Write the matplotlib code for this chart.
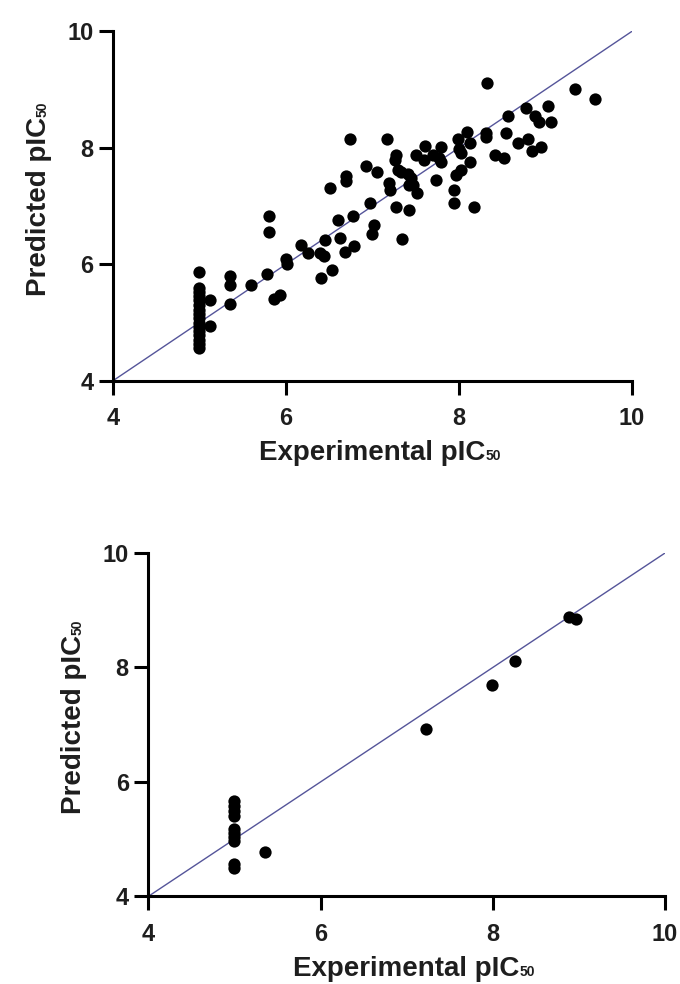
# Predicted vs experimental pIC50, training set (top) and test set (bottom)
import matplotlib.pyplot as plt

plt.rcParams['font.family'] = ['Liberation Sans', 'DejaVu Sans']
plt.rcParams['font.weight'] = 'bold'

# Training set (top panel)
train_exp = [
    5.0, 5.0, 5.0, 5.0, 5.0, 5.0, 5.0, 5.0, 5.0, 5.0, 5.0, 5.0, 5.0, 5.0, 5.0, 5.0,
    5.12, 5.12, 5.35, 5.35, 5.36, 5.60, 5.78, 5.81, 5.81, 5.86, 5.93,
    6.00, 6.01, 6.17, 6.26, 6.40, 6.44, 6.45, 6.41, 6.53, 6.51, 6.60, 6.63,
    6.69, 6.79, 6.70, 6.70, 6.74, 6.78, 6.93, 6.97, 7.02, 7.00, 7.06, 7.17,
    7.19, 7.21, 7.27, 7.26, 7.30, 7.33, 7.41, 7.45, 7.42, 7.47, 7.52, 7.27,
    7.42, 7.34, 7.51, 7.61, 7.60, 7.70, 7.80, 7.77, 7.79, 7.74, 7.95, 7.94,
    8.18, 7.99, 8.09, 8.13, 8.03, 8.00, 7.97, 8.03, 8.13, 8.32, 8.31, 8.42,
    8.52, 8.33, 9.34, 9.58, 9.03, 9.07, 8.78, 8.88, 8.93, 8.57, 8.55, 8.68,
    8.80, 8.85, 8.95,
]
train_pred = [
    5.87, 5.60, 5.52, 5.45, 5.38, 5.30, 5.22, 5.15, 5.08, 5.00, 4.93, 4.86, 4.78, 4.70, 4.63, 4.56,
    5.39, 4.94, 5.80, 5.64, 5.32, 5.64, 5.83, 6.83, 6.55, 5.40, 5.48,
    6.10, 6.00, 6.33, 6.20, 6.19, 6.14, 6.42, 5.76, 5.90, 7.32, 6.76, 6.46,
    6.21, 6.31, 7.52, 7.43, 8.16, 6.83, 7.69, 7.05, 6.68, 6.53, 7.59, 8.15,
    7.39, 7.28, 7.87, 7.80, 7.62, 7.59, 7.56, 7.48, 7.36, 7.36, 7.22, 6.98,
    6.94, 6.43, 7.88, 8.03, 7.79, 7.88, 8.01, 7.83, 7.75, 7.45, 7.28, 7.06,
    6.98, 8.16, 8.28, 8.08, 7.91, 7.98, 7.53, 7.62, 7.75, 8.26, 8.19, 7.88,
    7.82, 9.12, 9.02, 8.84, 8.72, 8.45, 8.68, 8.54, 8.45, 8.55, 8.26, 8.09,
    8.15, 7.95, 8.01,
]

# Test set (bottom panel)
test_exp = [5.0, 5.0, 5.0, 5.0, 5.0, 5.0, 5.0, 5.0, 5.0, 5.0, 5.35, 7.23, 7.99, 8.26, 8.89, 8.97]
test_pred = [5.66, 5.58, 5.49, 5.40, 5.17, 5.10, 5.03, 4.96, 4.57, 4.50, 4.78, 6.93, 7.70, 8.11, 8.89, 8.85]

ticks = [4, 6, 8, 10]
line_color = '#55559a'
text_color = '#1e1e1e'


def style_axes(ax):
    ax.set_xlim(4, 10)
    ax.set_ylim(4, 10)
    ax.set_xticks(ticks)
    ax.set_yticks(ticks)
    for side in ['top', 'right']:
        ax.spines[side].set_visible(False)
    for side in ['left', 'bottom']:
        ax.spines[side].set_linewidth(2.2)
    ax.tick_params(width=2.2, length=10, labelsize=17, labelcolor=text_color)
    ax.tick_params(axis='x', pad=9)
    ax.tick_params(axis='y', pad=4)
    for lab in ax.get_xticklabels() + ax.get_yticklabels():
        lab.set_fontweight('bold')

    # axis titles with a small "50" subscript
    ax.set_xlabel('Experimental pIC', fontsize=20, fontweight='bold',
                  color=text_color, labelpad=7)
    ax.set_ylabel('Predicted pIC', fontsize=20, fontweight='bold',
                  color=text_color, labelpad=11)
    ax.annotate('50', xy=(1.0, 0.0), xycoords=ax.xaxis.label,
                xytext=(0, 2), textcoords='offset points',
                ha='left', va='bottom', fontsize=10, color=text_color)
    ax.annotate('50', xy=(1.0, 1.0), xycoords=ax.yaxis.label,
                xytext=(-2, 0), textcoords='offset points',
                ha='left', va='bottom', rotation=90, rotation_mode='anchor',
                fontsize=10, color=text_color)


def main():
    fig = plt.figure(figsize=(6.8, 9.84), dpi=100)
    ax1 = fig.add_axes([0.166, 0.613, 0.763, 0.355])
    ax2 = fig.add_axes([0.218, 0.089, 0.760, 0.349])

    for ax, xs, ys in [(ax1, train_exp, train_pred), (ax2, test_exp, test_pred)]:
        ax.plot([4, 10], [4, 10], color=line_color, linewidth=1.0, zorder=1)
        ax.scatter(xs, ys, s=78, color='black', zorder=3, clip_on=False, linewidths=0)
        style_axes(ax)

    fig.savefig('out.png', dpi=100)


if __name__ == '__main__':
    main()
